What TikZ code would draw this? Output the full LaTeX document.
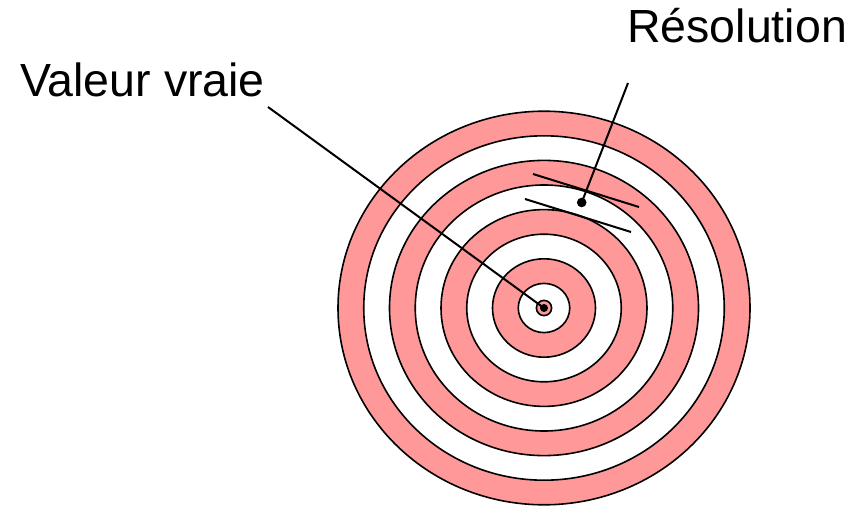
\documentclass[tikz,border=0pt]{standalone}
\usepackage{fontspec}
\setmainfont{Liberation Sans}
\definecolor{ringpink}{RGB}{255,153,153}
\begin{document}
\begin{tikzpicture}[x=1pt,y=-1pt,
  ring/.style={draw=black,line width=1.6pt},
  leader/.style={draw=black,line width=2pt},
  lbl/.style={font=\fontsize{46.5}{56}\selectfont,inner sep=0pt,anchor=base west}]
\useasboundingbox (0,0) rectangle (854,508);
\coordinate (c) at (544,308);
\foreach \k in {8,...,1}{
  \pgfmathsetmacro{\rx}{25.75*\k}
  \pgfmathsetmacro{\ry}{24.6*\k}
  \pgfmathtruncatemacro{\odd}{mod(\k,2)}
  \ifnum\odd=0
    \path[ring,fill=ringpink] (c) ellipse [x radius=\rx, y radius=\ry];
  \else
    \path[ring,fill=white] (c) ellipse [x radius=\rx, y radius=\ry];
  \fi
}
\path[ring,fill=ringpink] (c) circle [radius=7.6];
\fill[black] (c) circle [radius=4];
% resolution marks
\coordinate (r1a) at (533,174);
\coordinate (r1b) at (639,207);
\coordinate (r2a) at (525,199);
\coordinate (r2b) at (631,232);
\draw[leader] (r1a) -- (r1b);
\draw[leader] (r2a) -- (r2b);
\coordinate (rd) at (581.7,202.5);
\fill[black] (rd) circle [radius=4.8];
% labels
\node[lbl] (vv) at (20,96.7) {Valeur vraie};
\node[lbl] (res) at (627,43) {Résolution};
\coordinate (vvend) at (268,107);
\coordinate (resend) at (628,83);
\draw[leader] (vvend) -- (c);
\draw[leader] (resend) -- (rd);
\end{tikzpicture}
\end{document}
